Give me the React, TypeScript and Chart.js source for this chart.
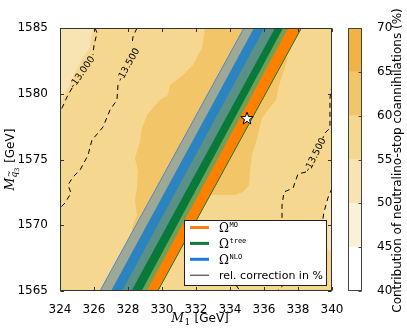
import React, { useEffect, useRef } from "react";
import { Chart, registerables } from "chart.js";

Chart.register(...registerables);

// ---------- axes ----------
const M1_TICKS = [324, 326, 328, 330, 332, 334, 336, 338, 340];
const MSQ_TICKS = [1565, 1570, 1575, 1580, 1585];
const CB_TICKS = [40, 45, 50, 55, 60, 65, 70];

// ---------- colour levels (contribution of coannihilations, %) ----------
const CB_LEVELS = [40, 45, 50, 55, 60, 65, 70];
const CB_COLORS = ["#ffffff", "#fbf1d8", "#f8e4b3", "#f5d78f", "#f2c568", "#efb445"];
const BASE_LEVEL = 3;

// filled contour regions (M1, Msq3) and their level index
const regionUpperLeft = [
  [324, 1585], [325.95, 1585], [325.8, 1584.1], [325.75, 1583.5], [325.3, 1582.7],
  [324.7, 1581.0], [324.2, 1579.8], [324, 1579.3],
];
const regionLeftHigh = [
  [332.53, 1585], [332.35, 1583.48], [331.82, 1582.19], [331.24, 1581.43], [330.47, 1580.67],
  [330.35, 1579.9], [329.88, 1579.52], [329.47, 1578.92], [329.12, 1578.38], [328.82, 1577.4],
  [328.71, 1576.41], [328.41, 1575.11], [328.59, 1574.13], [328.53, 1572.83], [328.41, 1571.84],
  [328.53, 1570.78], [328.29, 1570.02], [328.17, 1569.3], [330.0, 1569.3], [336.0, 1585],
];
const regionRightHigh = [
  [336.65, 1582.95], [337.41, 1582.72], [337.18, 1581.81], [336.88, 1580.67], [336.71, 1579.52],
  [336.24, 1578.76], [335.88, 1578.16], [335.71, 1577.24], [335.53, 1576.33], [335.29, 1575.34],
  [335.18, 1574.2], [335.12, 1573.06], [334.76, 1572.53], [334.29, 1572.3], [332.53, 1572.3],
];
const regionRightLow = [
  [340, 1573.06], [339.76, 1572.15], [339.53, 1571.01], [339.41, 1570.02], [339.47, 1568.88],
  [339.76, 1568.12], [340, 1567.97],
];
const regionPolys = [regionUpperLeft, regionLeftHigh, regionRightHigh, regionRightLow];
const regionLevels = [2, 4, 4, 2];

// ---------- relic density bands: M1 of band edges at Msq3 = 1565 and 1585 ----------
const BAND_MSQ = [1565, 1585];
const bandEdgeBottom = [326.35, 327.0, 327.65, 328.2, 328.8, 329.1, 329.75];
const bandEdgeTop = [334.82, 335.41, 336.02, 336.65, 337.12, 337.42, 338.2];
const bandColors = ["#9da897", "#2b84c0", "#5a9085", "#077a3a", "#70a056", "#ff8000"];

// ---------- relative correction contours (%) ----------
const contour13000a = [[326.06, 1585], [326.18, 1584.62], [326.0, 1583.71], [325.94, 1582.95]];
const contour13000b = [[324.71, 1580.44], [324.41, 1579.75], [324.12, 1578.92], [324, 1578.54]];
const contour13500La = [[328.53, 1585], [328.29, 1584.32], [328.24, 1583.78]];
const contour13500Lb = [
  [327.41, 1580.67], [327.35, 1579.52], [326.94, 1578.76], [326.53, 1577.47], [326.24, 1577.02],
  [325.88, 1576.48], [325.65, 1575.34], [325.18, 1574.2], [324.76, 1573.67], [324.47, 1573.06],
  [324.65, 1572.45], [324.29, 1571.69], [324, 1571.31],
];
const contour13500Ra = [[340, 1580.67], [339.88, 1579.68], [339.88, 1577.4], [339.53, 1576.94], [339.47, 1576.63]];
const contour13500Rb = [
  [338.47, 1574.05], [338.0, 1573.9], [337.71, 1572.83], [337.18, 1572.53], [337.06, 1571.54],
  [337.06, 1570.55], [337.06, 1568.88], [337.3, 1567.2], [337.35, 1565.7], [336.76, 1565],
];
const contour13000R = [
  [340, 1572.83], [339.76, 1572.07], [339.53, 1571.01], [339.41, 1570.02], [339.41, 1568.88], [339.35, 1567.36],
];
const contourBottom = [[334.35, 1565.46], [334.59, 1565]];
const contourLines = [
  contour13000a, contour13000b, contour13500La, contour13500Lb,
  contour13500Ra, contour13500Rb, contour13000R, contourBottom,
];

const contourLabelText = ["-13.000", "-13.500", "-13.500"];
const contourLabelM1 = [325.32, 328.03, 339.03];
const contourLabelMsq = [1581.62, 1582.19, 1575.34];
const contourLabelAngle = [-55, -61, -63];

// benchmark point
const starM1 = [335.0];
const starMsq = [1578.1];

// legend
const legendSup = ["MO", "tree", "NLO"];
const legendColors = ["#ff7f0e", "#0b7a3a", "#1f78e0"];
const legendLast = "rel. correction in %";

const SANS = '"DejaVu Sans", sans-serif';
const SERIF = '"DejaVu Serif", serif';
const MONO = '"DejaVu Sans Mono", monospace';

function polyPath(ctx: CanvasRenderingContext2D, chart: any, pts: number[][]) {
  const sx = chart.scales.x, sy = chart.scales.y;
  ctx.beginPath();
  pts.forEach(([x, y], i) => {
    const X = sx.getPixelForValue(x), Y = sy.getPixelForValue(y);
    if (i === 0) ctx.moveTo(X, Y); else ctx.lineTo(X, Y);
  });
  ctx.closePath();
}

function drawStar(ctx: CanvasRenderingContext2D, x: number, y: number, R: number, r: number) {
  ctx.beginPath();
  for (let k = 0; k < 10; k++) {
    const a = -Math.PI / 2 + (k * Math.PI) / 5;
    const rad = k % 2 === 0 ? R : r;
    const X = x + rad * Math.cos(a), Y = y + rad * Math.sin(a);
    if (k === 0) ctx.moveTo(X, Y); else ctx.lineTo(X, Y);
  }
  ctx.closePath();
  ctx.fillStyle = "#ffffff";
  ctx.fill();
  ctx.strokeStyle = "#000";
  ctx.lineWidth = 1;
  ctx.stroke();
}

const fillsPlugin = {
  id: "fills",
  beforeDatasetsDraw(chart: any) {
    const { ctx, chartArea: a } = chart;
    ctx.save();
    ctx.beginPath();
    ctx.rect(a.left, a.top, a.right - a.left, a.bottom - a.top);
    ctx.clip();
    ctx.fillStyle = CB_COLORS[BASE_LEVEL];
    ctx.fillRect(a.left, a.top, a.right - a.left, a.bottom - a.top);
    regionPolys.forEach((p, i) => {
      polyPath(ctx, chart, p);
      ctx.fillStyle = CB_COLORS[regionLevels[i]];
      ctx.fill();
    });
    const n = bandEdgeBottom.length - 1;
    for (let i = 0; i < n; i++) {
      polyPath(ctx, chart, [
        [bandEdgeBottom[i], BAND_MSQ[0]], [bandEdgeBottom[n], BAND_MSQ[0]],
        [bandEdgeTop[n], BAND_MSQ[1]], [bandEdgeTop[i], BAND_MSQ[1]],
      ]);
      ctx.fillStyle = bandColors[i];
      ctx.fill();
    }
    const sx = chart.scales.x, sy = chart.scales.y;
    const edgeLine = (k: number, color: string) => {
      ctx.beginPath();
      ctx.moveTo(sx.getPixelForValue(bandEdgeBottom[k]), sy.getPixelForValue(BAND_MSQ[0]));
      ctx.lineTo(sx.getPixelForValue(bandEdgeTop[k]), sy.getPixelForValue(BAND_MSQ[1]));
      ctx.strokeStyle = color;
      ctx.lineWidth = 1;
      ctx.stroke();
    };
    edgeLine(0, "#5587c4");
    edgeLine(n, "#2a7a30");
    ctx.restore();
  },
  afterDatasetsDraw(chart: any) {
    const { ctx, chartArea: a } = chart;
    const sx = chart.scales.x, sy = chart.scales.y;
    ctx.save();
    // contour labels
    ctx.fillStyle = "#000";
    ctx.font = `9.5px ${SANS}`;
    ctx.textAlign = "center";
    ctx.textBaseline = "middle";
    contourLabelText.forEach((t, i) => {
      ctx.save();
      ctx.translate(sx.getPixelForValue(contourLabelM1[i]), sy.getPixelForValue(contourLabelMsq[i]));
      ctx.rotate((contourLabelAngle[i] * Math.PI) / 180);
      ctx.fillText(t, 0, 0);
      ctx.restore();
    });
    // star
    starM1.forEach((m, i) => drawStar(ctx, sx.getPixelForValue(m), sy.getPixelForValue(starMsq[i]), 6.5, 2.7));
    // legend
    const w = 142, h = 65;
    const lx = a.right - 6 - w, ly = a.bottom - 6 - h;
    ctx.fillStyle = "#ffffff";
    ctx.fillRect(lx, ly, w, h);
    ctx.strokeStyle = "#222";
    ctx.lineWidth = 1;
    ctx.strokeRect(Math.round(lx) + 0.5, Math.round(ly) + 0.5, w, h);
    const rowY = (i: number) => ly + 7.5 + i * 15.9;
    ctx.textAlign = "left";
    ctx.textBaseline = "alphabetic";
    legendSup.forEach((s, i) => {
      const y = rowY(i);
      ctx.beginPath();
      ctx.moveTo(lx + 6, y);
      ctx.lineTo(lx + 25, y);
      ctx.strokeStyle = legendColors[i];
      ctx.lineWidth = 3;
      ctx.stroke();
      ctx.fillStyle = "#000";
      ctx.font = `12px ${SERIF}`;
      ctx.fillText("\u03a9", lx + 35, y + 4.5);
      const wO = ctx.measureText("\u03a9").width;
      ctx.font = `7px ${MONO}`;
      ctx.fillText(s, lx + 35 + wO + 0.5, y - 0.5);
    });
    const y3 = rowY(3);
    ctx.beginPath();
    ctx.moveTo(lx + 6, y3);
    ctx.lineTo(lx + 25, y3);
    ctx.strokeStyle = "#222";
    ctx.lineWidth = 1;
    ctx.stroke();
    ctx.fillStyle = "#000";
    ctx.font = `11px ${SANS}`;
    ctx.fillText(legendLast, lx + 35, y3 + 4);
    ctx.restore();
  },
  afterDraw(chart: any) {
    const { ctx, chartArea: a } = chart;
    const sx = chart.scales.x, sy = chart.scales.y;
    ctx.save();
    ctx.strokeStyle = "#333";
    ctx.lineWidth = 1;
    const L = Math.round(a.left) + 0.5, R = Math.round(a.right) - 0.5;
    const T = Math.round(a.top) + 0.5, B = Math.round(a.bottom) - 0.5;
    ctx.strokeRect(L, T, R - L, B - T);
    ctx.beginPath();
    M1_TICKS.forEach((v) => {
      const X = Math.round(sx.getPixelForValue(v)) + 0.5;
      ctx.moveTo(X, B); ctx.lineTo(X, B - 3.5);
      ctx.moveTo(X, T); ctx.lineTo(X, T + 3.5);
    });
    MSQ_TICKS.forEach((v) => {
      const Y = Math.round(sy.getPixelForValue(v)) + 0.5;
      ctx.moveTo(L, Y); ctx.lineTo(L + 3.5, Y);
      ctx.moveTo(R, Y); ctx.lineTo(R - 3.5, Y);
    });
    ctx.stroke();

    ctx.fillStyle = "#000";
    ctx.textAlign = "left";
    ctx.textBaseline = "alphabetic";
    // x label: M_1 [GeV]
    const fM = `italic 12.5px ${SERIF}`, fSub = `9px ${SERIF}`, fTxt = `12px ${SANS}`;
    ctx.font = fM; const wM = ctx.measureText("M").width;
    ctx.font = fSub; const w1 = ctx.measureText("1").width;
    ctx.font = fTxt; const wG = ctx.measureText(" [GeV]").width;
    const cx = (a.left + a.right) / 2 + 4;
    let x0 = cx - (wM + w1 + 1 + wG) / 2;
    const base = a.bottom + 31;
    ctx.font = fM; ctx.fillText("M", x0, base);
    ctx.font = fSub; ctx.fillText("1", x0 + wM + 0.5, base + 2.5);
    ctx.font = fTxt; ctx.fillText(" [GeV]", x0 + wM + w1 + 1, base);
    // y label: M_{q~3} [GeV]
    ctx.save();
    ctx.translate(16, (a.top + a.bottom) / 2);
    ctx.rotate(-Math.PI / 2);
    const fSub2 = `italic 9px ${SERIF}`, fSub3 = `6.5px ${SERIF}`;
    ctx.font = fM; const wMy = ctx.measureText("M").width;
    ctx.font = fSub2; const wq = ctx.measureText("q").width;
    ctx.font = fSub3; const w3 = ctx.measureText("3").width;
    const tot = wMy + wq + w3 + 1 + wG;
    let y0 = -tot / 2;
    ctx.font = fM; ctx.fillText("M", y0, -2);
    ctx.font = fSub2; ctx.fillText("q", y0 + wMy, 1);
    ctx.font = `8px ${SERIF}`; ctx.fillText("~", y0 + wMy + 0.6, -4.2);
    ctx.font = fSub3; ctx.fillText("3", y0 + wMy + wq, 3);
    ctx.font = fTxt; ctx.fillText(" [GeV]", y0 + wMy + wq + w3 + 1, -2);
    ctx.restore();
    ctx.restore();
  },
};

const cbPlugin = {
  id: "cbframe",
  afterDraw(chart: any) {
    const { ctx, chartArea: a } = chart;
    const sy = chart.scales.y;
    ctx.save();
    ctx.strokeStyle = "#444";
    ctx.lineWidth = 1;
    const L = Math.round(a.left) + 0.5, R = Math.round(a.right) - 0.5;
    const T = Math.round(a.top) + 0.5, B = Math.round(a.bottom) - 0.5;
    ctx.strokeRect(L, T, R - L, B - T);
    ctx.beginPath();
    CB_TICKS.forEach((v) => {
      const Y = Math.round(sy.getPixelForValue(v)) + 0.5;
      ctx.moveTo(R, Y); ctx.lineTo(R - 3, Y);
    });
    ctx.stroke();
    ctx.fillStyle = "#000";
    ctx.font = `12px ${SANS}`;
    ctx.textAlign = "center";
    ctx.textBaseline = "middle";
    ctx.translate(398, (a.top + a.bottom) / 2 + 1);
    ctx.rotate(-Math.PI / 2);
    ctx.fillText("Contribution of neutralino-stop coannihilations (%)", 0, 0);
    ctx.restore();
  },
};

export default function App() {
  const mainRef = useRef<HTMLCanvasElement>(null);
  const cbRef = useRef<HTMLCanvasElement>(null);

  useEffect(() => {
    Chart.defaults.font.family = SANS;
    const tickFont = { size: 12, family: SANS };
    const main = new Chart(mainRef.current!, {
      type: "scatter",
      data: {
        datasets: contourLines.map((pts) => ({
          type: "line" as const,
          data: pts.map(([x, y]) => ({ x, y })),
          showLine: true,
          pointRadius: 0,
          borderColor: "#000",
          borderWidth: 1,
          borderDash: [5, 4],
          fill: false,
          tension: 0,
        })),
      },
      options: {
        animation: false,
        responsive: false,
        events: [],
        layout: { padding: { left: 0, right: 75, top: 28, bottom: 0 } },
        plugins: { legend: { display: false }, tooltip: { enabled: false } },
        scales: {
          x: {
            type: "linear",
            min: M1_TICKS[0],
            max: M1_TICKS[M1_TICKS.length - 1],
            grid: { display: false },
            border: { display: false },
            afterBuildTicks: (s: any) => { s.ticks = M1_TICKS.map((v) => ({ value: v })); },
            afterFit: (s: any) => { s.height = 41; },
            ticks: { autoSkip: false, maxRotation: 0, padding: 4, color: "#000", font: tickFont, callback: (v: any) => String(v) },
          },
          y: {
            type: "linear",
            min: MSQ_TICKS[0],
            max: MSQ_TICKS[MSQ_TICKS.length - 1],
            grid: { display: false },
            border: { display: false },
            afterBuildTicks: (s: any) => { s.ticks = MSQ_TICKS.map((v) => ({ value: v })); },
            afterFit: (s: any) => { s.width = 60; },
            ticks: { autoSkip: false, padding: 4, color: "#000", font: tickFont, callback: (v: any) => String(v) },
          },
        },
      },
      plugins: [fillsPlugin],
    });

    const cb = new Chart(cbRef.current!, {
      type: "bar",
      data: {
        labels: [""],
        datasets: CB_COLORS.map((c, i) => ({
          data: [[CB_LEVELS[i], CB_LEVELS[i + 1]]] as any,
          backgroundColor: c,
          borderWidth: 0,
          barPercentage: 1,
          categoryPercentage: 1,
          grouped: false,
        })),
      },
      options: {
        animation: false,
        responsive: false,
        events: [],
        layout: { padding: { left: 348, right: 0, top: 28, bottom: 41 } },
        plugins: { legend: { display: false }, tooltip: { enabled: false } },
        scales: {
          x: { display: false },
          y: {
            position: "right",
            min: CB_TICKS[0],
            max: CB_TICKS[CB_TICKS.length - 1],
            grid: { display: false },
            border: { display: false },
            afterBuildTicks: (s: any) => { s.ticks = CB_TICKS.map((v) => ({ value: v })); },
            afterFit: (s: any) => { s.width = 45; },
            ticks: { padding: 7, color: "#000", font: tickFont, callback: (v: any) => String(v) },
          },
        },
      },
      plugins: [cbPlugin],
    });

    return () => {
      main.destroy();
      cb.destroy();
    };
  }, []);

  return (
    <div style={{ position: "fixed", left: 0, top: 0, width: 407, height: 332, background: "#fff" }}>
      <canvas ref={mainRef} width={407} height={332} style={{ position: "absolute", left: 0, top: 0 }} />
      <canvas ref={cbRef} width={407} height={332} style={{ position: "absolute", left: 0, top: 0 }} />
    </div>
  );
}
